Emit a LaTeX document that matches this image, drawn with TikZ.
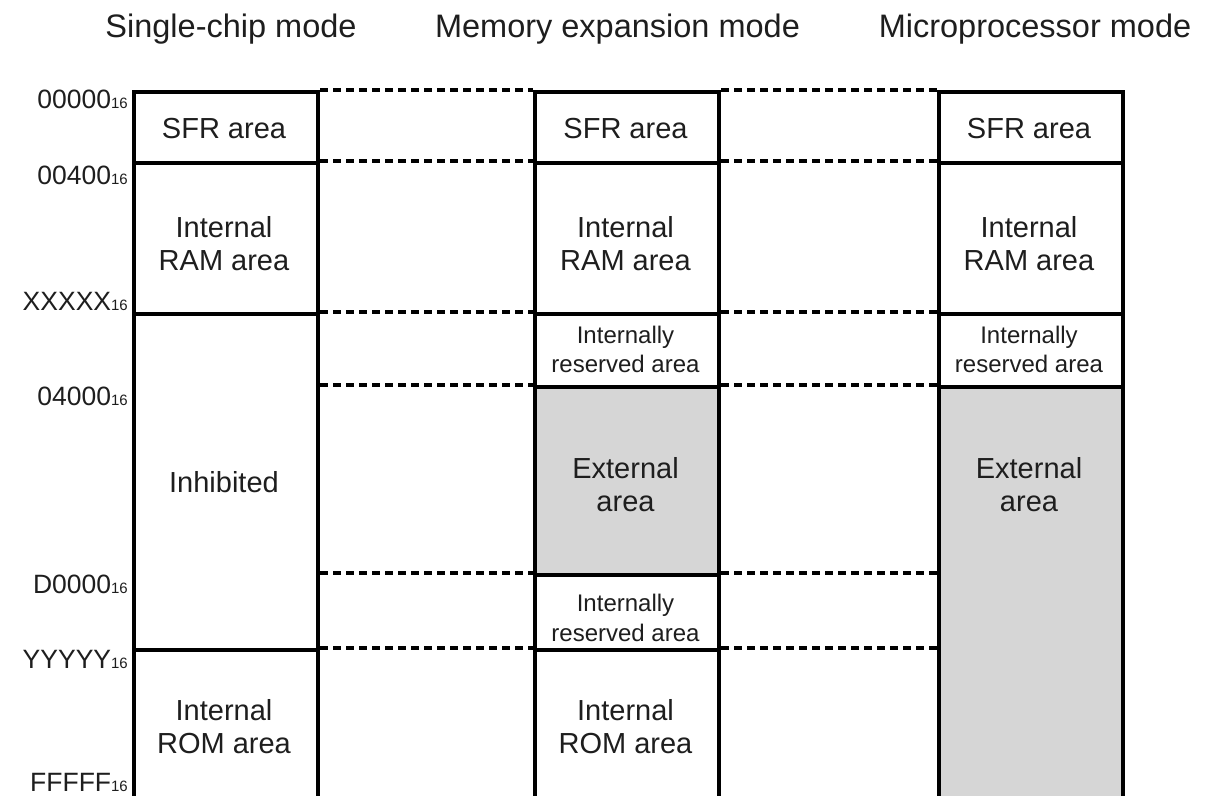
\documentclass[tikz,border=0pt]{standalone}
\usepackage{fontspec}
\setmainfont{Liberation Sans}
\definecolor{extgray}{HTML}{D6D6D6}
\definecolor{txt}{HTML}{1E1E1E}
% hexadecimal address with a small "16" radix suffix
\newcommand\hexaddr[1]{#1{\fontsize{15}{18}\selectfont 16}}
\begin{document}
\begin{tikzpicture}[x=1pt,y=-1pt,
  region/.style={draw=black, line width=4pt, fill=white, minimum width=184pt,
                 inner sep=0pt, anchor=north west},
  extregion/.style={region, fill=extgray},
  link/.style={draw=black, line width=3.5pt, dash pattern=on 8pt off 5pt},
  lbl/.style={text=txt, font=\fontsize{29}{33}\selectfont, align=center, inner sep=0pt},
  smalllbl/.style={text=txt, font=\fontsize{24}{29.5}\selectfont, align=center, inner sep=0pt},
  addr/.style={text=txt, font=\fontsize{26.5}{30}\selectfont, anchor=east, inner sep=0pt},
  modetitle/.style={text=txt, font=\fontsize{32.5}{38}\selectfont, anchor=base, inner sep=0pt}]

\useasboundingbox (0,0) rectangle (1214,795);

% ---- mode titles
\node[modetitle] (t1) at (231,37)    {Single-chip mode};
\node[modetitle] (t2) at (617.5,37)  {Memory expansion mode};
\node[modetitle] (t3) at (1035,37)   {Microprocessor mode};

% ---- single-chip mode column
\node[region, minimum height=71pt]  (sfr1) at (132,90)  {};
\node[region, minimum height=151pt] (ram1) at (132,161) {};
\node[region, minimum height=336pt] (inh1) at (132,312) {};
\node[region, minimum height=152pt] (rom1) at (132,648) {};

% ---- memory expansion mode column
\node[region, minimum height=71pt]  (sfr2)  at (533,90)  {};
\node[region, minimum height=151pt] (ram2)  at (533,161) {};
\node[region, minimum height=73pt]  (rsv2a) at (533,312) {};
\node[extregion, minimum height=188pt] (ext2) at (533,385) {};
\node[region, minimum height=75pt]  (rsv2b) at (533,573) {};
\node[region, minimum height=152pt] (rom2)  at (533,648) {};

% ---- microprocessor mode column
\node[region, minimum height=71pt]  (sfr3) at (937,90)  {};
\node[region, minimum height=151pt] (ram3) at (937,161) {};
\node[region, minimum height=73pt]  (rsv3) at (937,312) {};
\node[extregion, minimum height=415pt] (ext3) at (937,385) {};

% ---- dashed boundary links, single-chip -> memory expansion
\draw[link] (sfr1.north east) -- (sfr2.north west);
\draw[link] (ram1.north east) -- (ram2.north west);
\draw[link] (inh1.north east) -- (rsv2a.north west);
\draw[link] (inh1.east |- ext2.north west) -- (ext2.north west);
\draw[link] (inh1.east |- rsv2b.north west) -- (rsv2b.north west);
\draw[link] (rom1.north east) -- (rom2.north west);

% ---- dashed boundary links, memory expansion -> microprocessor
\draw[link] (sfr2.north east) -- (sfr3.north west);
\draw[link] (ram2.north east) -- (ram3.north west);
\draw[link] (rsv2a.north east) -- (rsv3.north west);
\draw[link] (ext2.north east) -- (ext3.north west);
\draw[link] (rsv2b.north east) -- (rsv2b.north east -| ext3.west);
\draw[link] (rom2.north east) -- (rom2.north east -| ext3.west);

% ---- area labels
\node[lbl] (l-sfr1) at (224,128.5) {SFR area};
\node[lbl] (l-ram1) at (224,244)   {Internal\\RAM area};
\node[lbl] (l-inh1) at (224,482)   {Inhibited};
\node[lbl] (l-rom1) at (224,727)   {Internal\\ROM area};

\node[lbl]      (l-sfr2)  at (625.5,128.5) {SFR area};
\node[lbl]      (l-ram2)  at (625.5,244)   {Internal\\RAM area};
\node[smalllbl] (l-rsv2a) at (625.5,349.5) {Internally\\reserved area};
\node[lbl]      (l-ext2)  at (625.5,485)   {External\\area};
\node[smalllbl] (l-rsv2b) at (625.5,618)   {Internally\\reserved area};
\node[lbl]      (l-rom2)  at (625.5,727)   {Internal\\ROM area};

\node[lbl]      (l-sfr3) at (1029,128.5) {SFR area};
\node[lbl]      (l-ram3) at (1029,244)   {Internal\\RAM area};
\node[smalllbl] (l-rsv3) at (1029,349.5) {Internally\\reserved area};
\node[lbl]      (l-ext3) at (1029,485)   {External\\area};

% ---- address labels
\node[addr] (a0) at (128,99)    {\hexaddr{00000}};
\node[addr] (a1) at (128,175)   {\hexaddr{00400}};
\node[addr] (a2) at (128,301.5) {\hexaddr{XXXXX}};
\node[addr] (a3) at (128,396)   {\hexaddr{04000}};
\node[addr] (a4) at (128,584)   {\hexaddr{D0000}};
\node[addr] (a5) at (128,659)   {\hexaddr{YYYYY}};
\node[addr] (a6) at (128,782.5) {\hexaddr{FFFFF}};
\end{tikzpicture}
\end{document}
